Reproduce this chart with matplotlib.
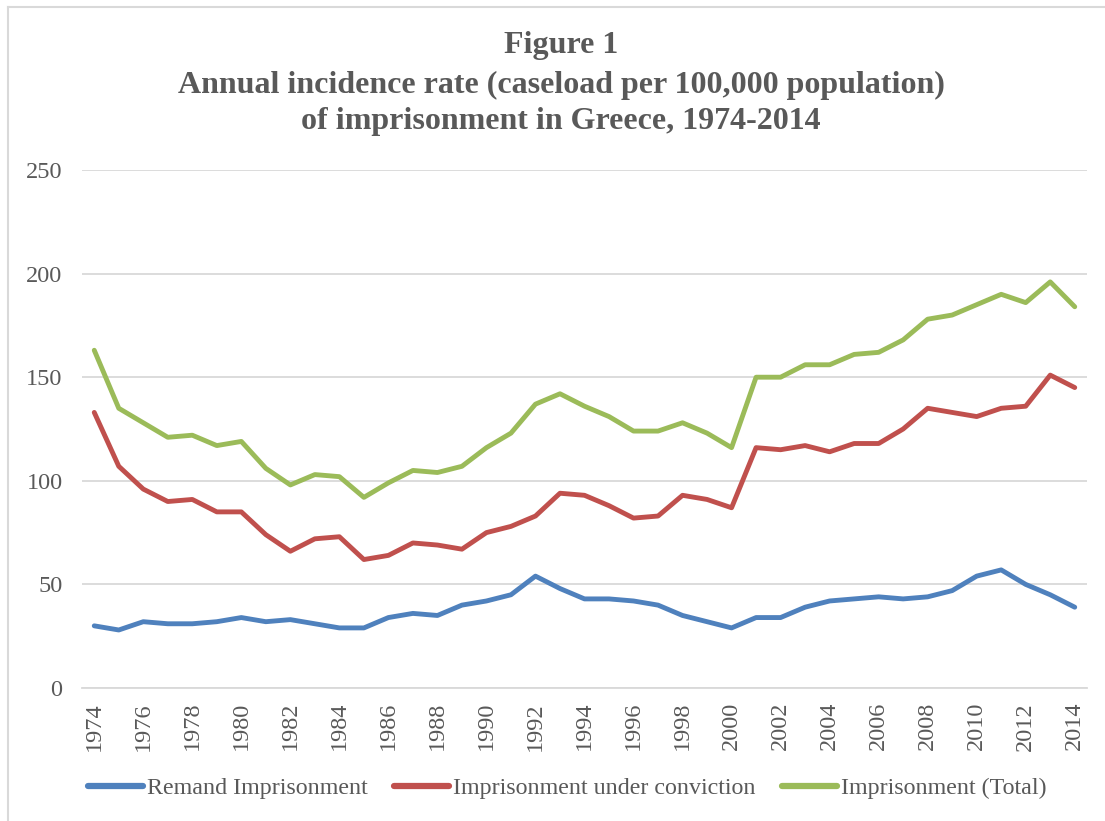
import matplotlib
matplotlib.use("Agg")
import matplotlib.pyplot as plt
from matplotlib.lines import Line2D

plt.rcParams["font.family"] = ["Liberation Serif", "DejaVu Serif"]

# ---- data ----
years = list(range(1974, 2015))
remand = [30, 28, 32, 31, 31, 32, 34, 32, 33, 31, 29, 29, 34, 36, 35, 40, 42, 45,
          54, 48, 43, 43, 42, 40, 35, 32, 29, 34, 34, 39, 42, 43, 44, 43, 44, 47,
          54, 57, 50, 45, 39]
conviction = [133, 107, 96, 90, 91, 85, 85, 74, 66, 72, 73, 62, 64, 70, 69, 67, 75, 78,
              83, 94, 93, 88, 82, 83, 93, 91, 87, 116, 115, 117, 114, 118, 118, 125, 135, 133,
              131, 135, 136, 151, 145]
total = [163, 135, 128, 121, 122, 117, 119, 106, 98, 103, 102, 92, 99, 105, 104, 107, 116, 123,
         137, 142, 136, 131, 124, 124, 128, 123, 116, 150, 150, 156, 156, 161, 162, 168, 178, 180,
         185, 190, 186, 196, 184]
series_names = ["Remand Imprisonment", "Imprisonment under conviction", "Imprisonment (Total)"]
colors = ["#4F81BD", "#C0504D", "#9BBB59"]
text_col = "#595959"

fig = plt.figure(figsize=(11.05, 8.21), dpi=100)
ax = fig.add_axes([82 / 1105, 1 - 688 / 821, (1087 - 82) / 1105, (688 - 170) / 821])

for vals, c in zip([remand, conviction, total], colors):
    ax.plot(years, vals, color=c, linewidth=3.5, solid_capstyle="round", solid_joinstyle="round")

ax.set_xlim(1973.5, 2014.5)
ax.set_ylim(0, 250)
ax.set_yticks(range(0, 251, 50))
ax.set_xticks(years[::2])
ax.set_xticklabels([str(y) for y in years[::2]], rotation=90)
ax.tick_params(axis="both", length=0, labelsize=17.5, labelcolor=text_col)
ax.tick_params(axis="y", pad=14)
ax.tick_params(axis="x", pad=10)
ax.grid(axis="y", color="#D9D9D9", linewidth=1.3)
ax.set_axisbelow(True)
for s in ["top", "right", "left"]:
    ax.spines[s].set_visible(False)
ax.spines["bottom"].set_color("#D9D9D9")
ax.spines["bottom"].set_linewidth(1.3)

title_lines = ["Figure 1",
               "Annual incidence rate (caseload per 100,000 population)",
               "of imprisonment in Greece, 1974-2014"]
for line, ypix in zip(title_lines, [46, 85, 122]):
    fig.text(561 / 1105, 1 - ypix / 821, line, ha="center", va="center",
             fontsize=23, fontweight="bold", color=text_col)

handles = [Line2D([0], [0], color=c, linewidth=4.5, solid_capstyle="round") for c in colors]
fig.legend(handles, series_names, loc="center", bbox_to_anchor=(567 / 1105, 1 - 788 / 821),
           ncol=3, frameon=False, fontsize=17.3, labelcolor=text_col, handlelength=2.3,
           handletextpad=0.15, columnspacing=1.1)

# outer frame of the chart object
fig.add_artist(Line2D([8 / 1105, 8 / 1105], [0, 1 - 7 / 821], color="#D9D9D9", linewidth=1.5))
fig.add_artist(Line2D([8 / 1105, 1], [1 - 7 / 821, 1 - 7 / 821], color="#D9D9D9", linewidth=1.5))

fig.savefig("out.png", dpi=100)
